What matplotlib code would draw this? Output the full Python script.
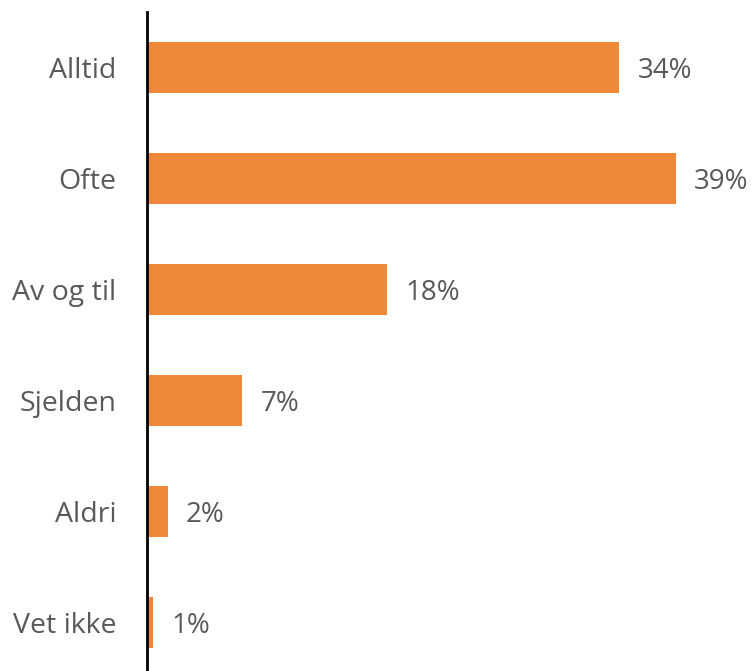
import matplotlib.pyplot as plt

categories = ['Alltid', 'Ofte', 'Av og til', 'Sjelden', 'Aldri', 'Vet ikke']
# bar lengths (the printed labels are rounded)
values = [34.45, 38.55, 17.5, 6.95, 1.5, 0.45]
labels = ['34%', '39%', '18%', '7%', '2%', '1%']

plt.rcParams['font.family'] = ['Open Sans', 'DejaVu Sans']

fig = plt.figure(figsize=(7.53, 6.71), dpi=100)
ax = fig.add_axes([147 / 753, 0, 606 / 753, 659 / 671])

ypos = list(range(len(categories)))
ax.barh(ypos, values, height=0.46, color='#F0883A')
for y, v, lab in zip(ypos, values, labels):
    ax.text(v + 1.35, y, lab, va='center_baseline', ha='left', fontsize=20, color='#595959')

ax.set_yticks(ypos)
ax.set_yticklabels(categories, fontsize=20.5, color='#595959', va='center_baseline')
ax.tick_params(axis='y', length=0, pad=22)
ax.set_xticks([])
ax.set_xlim(0, 44.2)
ax.set_ylim(5.437, -0.5)
for s in ['top', 'right', 'bottom']:
    ax.spines[s].set_visible(False)
ax.spines['left'].set_linewidth(2)
ax.spines['left'].set_color('black')

fig.savefig('out.png', dpi=100)
